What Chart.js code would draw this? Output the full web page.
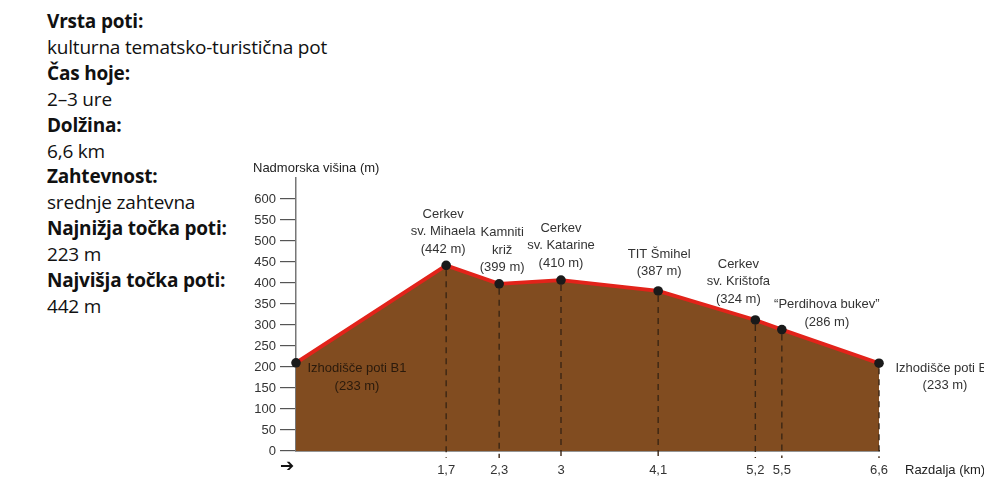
<!DOCTYPE html>
<html>
<head>
<meta charset="utf-8">
<script src="https://cdn.jsdelivr.net/npm/chart.js@4.4.0/dist/chart.umd.min.js"></script>
<style>
  html, body { margin: 0; padding: 0; background: #fff; }
  body { width: 984px; height: 484px; position: relative; overflow: hidden; }
  #info {
    position: absolute; left: 47px; top: 9px;
    font-family: "Open Sans", "Noto Sans", sans-serif;
    font-size: 19px; line-height: 25.9px; color: #111;
    letter-spacing: -0.2px;
  }
  #info b { font-weight: 700; }
  #wrap { position: absolute; left: 0; top: 0; width: 984px; height: 484px; }
</style>
</head>
<body>
<div id="info">
  <b>Vrsta poti:</b><br>kulturna tematsko-turistična pot<br>
  <b>Čas hoje:</b><br>2–3 ure<br>
  <b>Dolžina:</b><br>6,6 km<br>
  <b>Zahtevnost:</b><br>srednje zahtevna<br>
  <b>Najnižja točka poti:</b><br>223 m<br>
  <b>Najvišja točka poti:</b><br>442 m
</div>
<div id="wrap"><canvas id="chartProfil"></canvas></div>
<script>
// ===============================
// PODATKI
// ===============================
const razdalje = [0, 1.7, 2.3, 3, 4.1, 5.2, 5.5, 6.6];           // km
const visine   = [210, 442, 398, 407, 381, 312, 289, 209];       // m (kot narisano)
const imena = [
  ["Izhodišče poti B1", "(233 m)"],
  ["Cerkev", "sv. Mihaela", "(442 m)"],
  ["Kamniti", "križ", "(399 m)"],
  ["Cerkev", "sv. Katarine", "(410 m)"],
  ["TIT Šmihel", "(387 m)"],
  ["Cerkev", "sv. Krištofa", "(324 m)"],
  ["“Perdihova bukev”", "(286 m)"],
  ["Izhodišče poti B1", "(233 m)"]
];
const yTicks = [0, 50, 100, 150, 200, 250, 300, 350, 400, 450, 500, 550, 600];

// ===============================
// POSTAVITEV NAPISOV (odmik od točke)
// ===============================
const napisOdmik = [
  { dx: 61, dy: 6 },
  { dx: -3, dy: -51 },
  { dx: 3, dy: -51 },
  { dx: 0, dy: -52 },
  { dx: 1, dy: -37 },
  { dx: -17, dy: -56 },
  { dx: 45, dy: -25 },
  { dx: 66, dy: 5 }
];

const fmt = v => String(v).replace(".", ",");
const FONT = "'Liberation Sans', Arial, sans-serif";

const profilPlugin = {
  id: "profil",
  afterDatasetsDraw(chart) {
    const ctx = chart.ctx;
    const xs = chart.scales.x, ys = chart.scales.y;
    const base = ys.getPixelForValue(0);
    ctx.save();
    // crtkane navpičnice
    ctx.strokeStyle = "#3b2614";
    ctx.lineWidth = 1.4;
    ctx.setLineDash([6, 5]);
    razdalje.forEach((r, i) => {
      if (i === 0) return;
      const px = xs.getPixelForValue(r);
      const py = ys.getPixelForValue(visine[i]);
      ctx.beginPath();
      ctx.moveTo(px, py + 5);
      ctx.lineTo(px, base + 7);
      ctx.stroke();
    });
    ctx.setLineDash([]);
    // točke
    ctx.fillStyle = "#1a1a1a";
    razdalje.forEach((r, i) => {
      ctx.beginPath();
      ctx.arc(xs.getPixelForValue(r), ys.getPixelForValue(visine[i]), 4.8, 0, Math.PI * 2);
      ctx.fill();
    });
    // napisi
    ctx.font = "13px " + FONT;
    ctx.textAlign = "center";
    ctx.textBaseline = "middle";
    imena.forEach((lines, i) => {
      const px = xs.getPixelForValue(razdalje[i]) + napisOdmik[i].dx;
      const py = ys.getPixelForValue(visine[i]) + napisOdmik[i].dy;
      ctx.fillStyle = i === 0 ? "#2a1a0c" : "#333";
      lines.forEach((t, k) => ctx.fillText(t, px, py + k * 17.5));
    });
    // naslovi osi
    ctx.fillStyle = "#222";
    ctx.textAlign = "left";
    ctx.fillText("Nadmorska višina (m)", 253, 168);
    ctx.fillText("Razdalja (km)", 905, 470);
    ctx.font = "bold 17px 'DejaVu Sans', sans-serif";
    ctx.fillStyle = "#111";
    ctx.fillText("➔", 280, 467);
    ctx.restore();
  }
};

new Chart(document.getElementById("chartProfil"), {
  type: "line",
  data: {
    datasets: [{
      data: razdalje.map((r, i) => ({ x: r, y: visine[i] })),
      borderColor: "#e2231a",
      borderWidth: 3.8,
      backgroundColor: "#814c20",
      fill: "origin",
      tension: 0,
      pointRadius: 0
    }]
  },
  options: {
    responsive: true,
    maintainAspectRatio: false,
    animation: false,
    layout: { padding: { left: 236, right: 105, top: 178, bottom: 0 } },
    plugins: { legend: { display: false }, tooltip: { enabled: false } },
    scales: {
      x: {
        type: "linear",
        min: 0,
        max: 6.6,
        afterBuildTicks: s => { s.ticks = razdalje.slice(1).map(v => ({ value: v })); },
        afterFit: s => { s.height = 33; },
        grid: { display: false, drawTicks: false },
        border: { display: true, color: "#2a2a2a", width: 1.5 },
        ticks: {
          padding: 12,
          autoSkip: false,
          maxRotation: 0,
          color: "#333",
          font: { family: FONT, size: 13 },
          callback: v => fmt(v)
        }
      },
      y: {
        min: 0,
        max: 650,
        afterBuildTicks: s => { s.ticks = yTicks.concat([650]).map(v => ({ value: v })); },
        afterFit: s => { s.width = 60; },
        grid: {
          drawOnChartArea: false,
          tickLength: 16,
          color: c => (c.tick && c.tick.value === 650 ? "rgba(0,0,0,0)" : "#555"),
          lineWidth: 1.2
        },
        border: { display: true, color: "#777", width: 1.5 },
        ticks: {
          padding: 4,
          color: "#333",
          font: { family: FONT, size: 13 },
          callback: v => (v === 650 ? "" : v)
        }
      }
    }
  },
  plugins: [profilPlugin]
});
</script>
</body>
</html>
